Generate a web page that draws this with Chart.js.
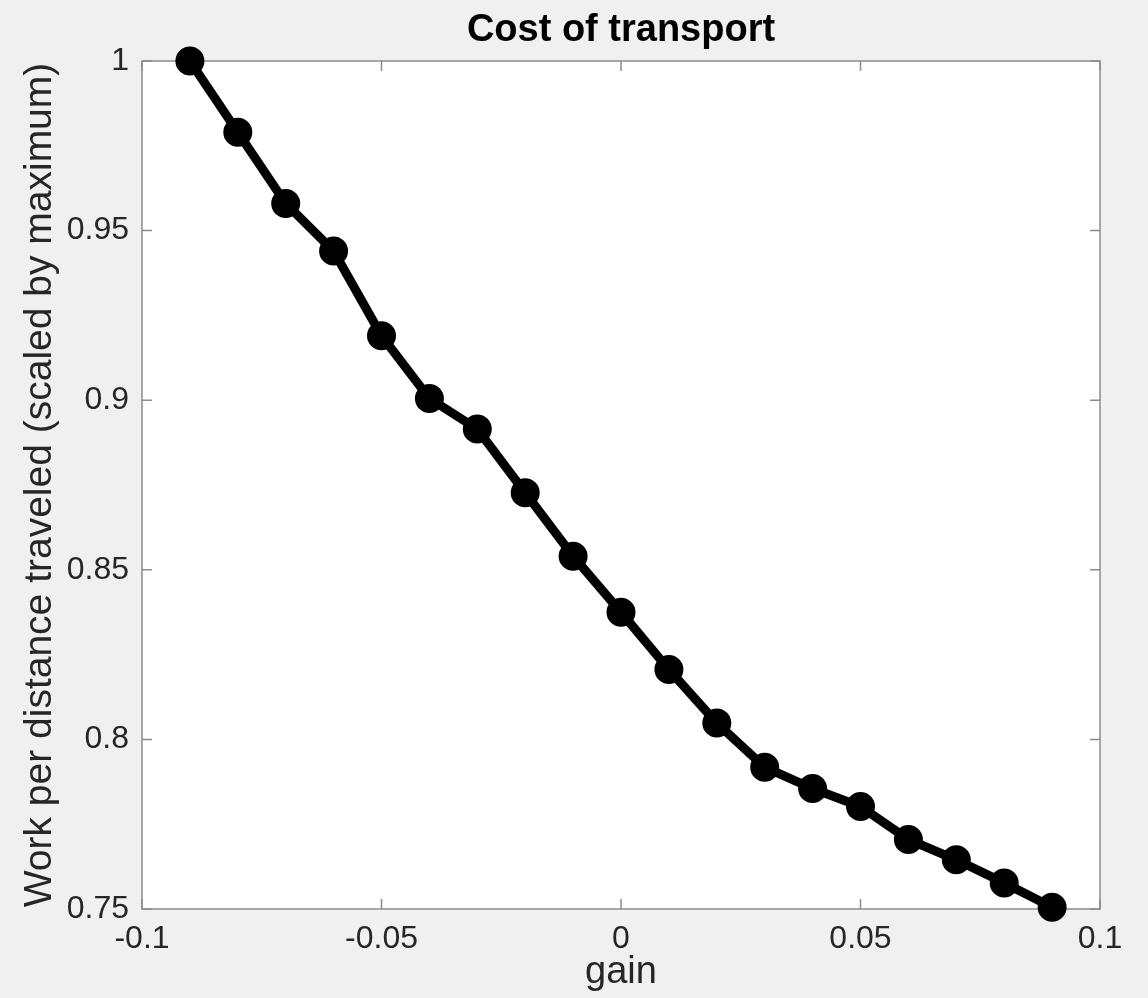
<!DOCTYPE html>
<html>
<head>
<meta charset="utf-8">
<title>Cost of transport</title>
<script src="https://cdn.jsdelivr.net/npm/chart.js@4.4.1/dist/chart.umd.min.js"></script>
<style>
	html, body {
		margin: 0;
		padding: 0;
		background: #f0f0f0;
	}
	#chart {
		display: block;
	}
</style>
</head>
<body>
<canvas id="chart" width="1148" height="998"></canvas>
<script>
	'use strict';

	// data
	var gains = [-0.09, -0.08, -0.07, -0.06, -0.05, -0.04, -0.03, -0.02, -0.01, 0,
		0.01, 0.02, 0.03, 0.04, 0.05, 0.06, 0.07, 0.08, 0.09];
	var workPerDistance = [1.0, 0.979, 0.958, 0.944, 0.919, 0.9005, 0.8915, 0.8727, 0.854, 0.8375,
		0.8206, 0.8048, 0.7918, 0.7855, 0.7802, 0.7705, 0.7645, 0.7577, 0.7505];
	var xTickLabels = ['-0.1', '-0.05', '0', '0.05', '0.1'];
	var yTickLabels = ['0.75', '0.8', '0.85', '0.9', '0.95', '1'];

	var axisColor = '#8c8c8c',
		textColor = '#262626',
		fontFamily = '"Liberation Sans", Arial, Helvetica, sans-serif';

	/**
	 * White plot box, MATLAB style frame and inward ticks on all sides
	 */
	var matlabAxes = {
		id: 'matlabAxes',
		beforeDraw: function (chart) {
			var ctx = chart.ctx,
				area = chart.chartArea;

			ctx.save();
			ctx.fillStyle = '#f0f0f0';
			ctx.fillRect(0, 0, chart.width, chart.height);
			ctx.fillStyle = '#ffffff';
			ctx.fillRect(area.left, area.top, area.right - area.left, area.bottom - area.top);
			ctx.restore();
		},
		beforeDatasetsDraw: function (chart) {
			var ctx = chart.ctx,
				area = chart.chartArea,
				xScale = chart.scales.x,
				yScale = chart.scales.y,
				tickLen = 10;

			ctx.save();
			ctx.strokeStyle = axisColor;
			ctx.lineWidth = 1.5;
			ctx.strokeRect(area.left, area.top, area.right - area.left, area.bottom - area.top);

			ctx.beginPath();
			xScale.ticks.forEach(function (tick) {
				var px = xScale.getPixelForValue(tick.value);
				ctx.moveTo(px, area.bottom);
				ctx.lineTo(px, area.bottom - tickLen);
				ctx.moveTo(px, area.top);
				ctx.lineTo(px, area.top + tickLen);
			});
			yScale.ticks.forEach(function (tick) {
				var py = yScale.getPixelForValue(tick.value);
				ctx.moveTo(area.left, py);
				ctx.lineTo(area.left + tickLen, py);
				ctx.moveTo(area.right, py);
				ctx.lineTo(area.right - tickLen, py);
			});
			ctx.stroke();
			ctx.restore();
		}
	};

	var points = gains.map(function (g, i) {
		return {x: g, y: workPerDistance[i]};
	});

	new Chart(document.getElementById('chart'), {
		type: 'line',
		data: {
			datasets: [{
				label: 'Cost of transport',
				data: points,
				borderColor: '#000000',
				backgroundColor: '#000000',
				borderWidth: 9,
				pointRadius: 13,
				pointBorderWidth: 3,
				pointBackgroundColor: '#000000',
				pointBorderColor: '#000000',
				tension: 0,
				clip: false
			}]
		},
		options: {
			responsive: false,
			animation: false,
			layout: {
				padding: {left: 0, top: 0, right: 48, bottom: 0}
			},
			plugins: {
				legend: {display: false},
				tooltip: {enabled: false},
				title: {
					display: true,
					text: 'Cost of transport',
					fullSize: false,
					color: '#000000',
					font: {family: fontFamily, size: 38, weight: 'bold', lineHeight: 1.2},
					padding: {top: 8, bottom: 7.4}
				}
			},
			scales: {
				x: {
					type: 'linear',
					min: -0.1,
					max: 0.1,
					grid: {display: false, drawTicks: false},
					border: {display: false},
					ticks: {
						stepSize: 0.05,
						padding: 11,
						maxRotation: 0,
						color: textColor,
						font: {family: fontFamily, size: 32},
						callback: function (value, index) {
							return xTickLabels[index];
						}
					},
					title: {
						display: true,
						text: 'gain',
						color: textColor,
						font: {family: fontFamily, size: 38, lineHeight: 1.2},
						padding: {top: 0, bottom: 3}
					},
					afterFit: function (scale) {
						scale.height = 89;
					}
				},
				y: {
					type: 'linear',
					min: 0.75,
					max: 1,
					grid: {display: false, drawTicks: false},
					border: {display: false},
					ticks: {
						stepSize: 0.05,
						padding: 13,
						color: textColor,
						font: {family: fontFamily, size: 32},
						callback: function (value, index) {
							return yTickLabels[index];
						}
					},
					title: {
						display: true,
						text: 'Work per distance traveled (scaled by maximum)',
						color: textColor,
						font: {family: fontFamily, size: 39, lineHeight: 1.2},
						padding: {top: 17, bottom: 0}
					},
					afterFit: function (scale) {
						scale.width = 142;
					}
				}
			}
		},
		plugins: [matlabAxes]
	});
</script>
</body>
</html>
